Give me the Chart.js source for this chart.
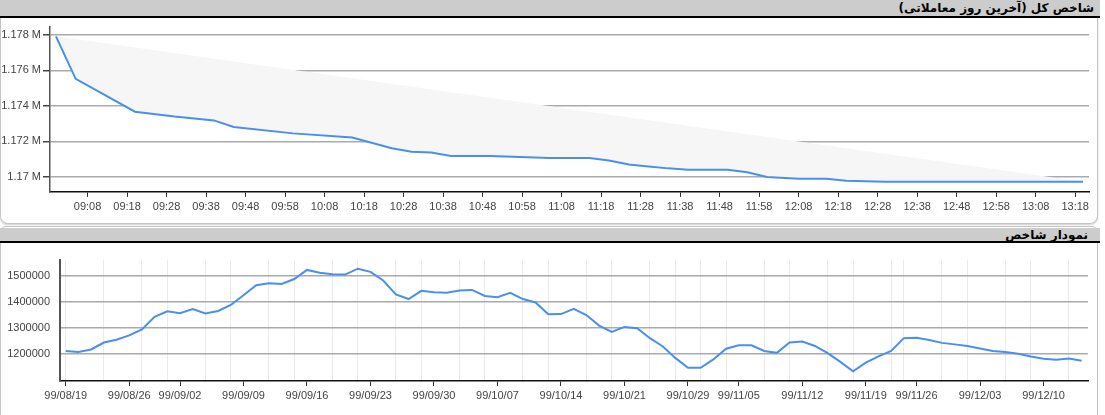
<!DOCTYPE html>
<html>
<head>
<meta charset="utf-8">
<script src="https://cdn.jsdelivr.net/npm/chart.js@4/dist/chart.umd.min.js"></script>
<style>
    body { margin: 0; width: 1105px; height: 415px; overflow: hidden; background: #fff; font-family: Arial, "Liberation Sans", sans-serif; }
    .panel { position: absolute; left: 0; width: 1098px; border: 1px solid #c4c4c4; box-sizing: border-box; background: #fff; }
    #panel1 { top: -1px; height: 225px; border-radius: 0 0 8px 8px; box-shadow: 0 1px 2px rgba(0,0,0,0.2); }
    #panel2 { top: 226px; height: 200px; border-radius: 6px 6px 0 0; }
    .bar { position: absolute; left: 0; width: 1100px; background: #ccc; border-bottom: 2px solid #000; direction: rtl; text-align: right; font: bold 12px "DejaVu Sans", sans-serif; white-space: nowrap; box-sizing: border-box; padding-right: 6px; }
    #bar1 { top: 0; height: 18px; line-height: 17px; }
    #bar2 { top: 228px; height: 15px; line-height: 14px; padding-right: 12px; }
    canvas { position: absolute; left: 0; }
</style>
</head>
<body>
<div class="panel" id="panel1"></div>
<div class="panel" id="panel2"></div>
<div class="bar" id="bar1">شاخص کل (آخرین روز معاملاتی)</div>
<div class="bar" id="bar2">نمودار شاخص</div>
<canvas id="intraday" width="1098" height="204" style="top:18px"></canvas>
<canvas id="history" width="1098" height="172" style="top:243px"></canvas>

<script>
// last trading day (intraday)
const intradayTimes = ['09:00','09:05','09:20','09:30','09:40','09:45','10:00','10:15','10:25','10:30','10:35','10:40','10:50','11:05','11:15','11:20','11:25','11:30','11:35','11:40','11:50','11:55','12:00','12:08','12:15','12:20','12:30','12:45','13:00','13:10','13:20'];
const intradayValues = [1177910,1175520,1173670,1173400,1173180,1172810,1172450,1172220,1171610,1171420,1171370,1171180,1171180,1171070,1171070,1170920,1170700,1170590,1170480,1170400,1170400,1170260,1169990,1169890,1169890,1169780,1169720,1169720,1169720,1169720,1169720];
const intradayTicks = ['09:08','09:18','09:28','09:38','09:48','09:58','10:08','10:18','10:28','10:38','10:48','10:58','11:08','11:18','11:28','11:38','11:48','11:58','12:08','12:18','12:28','12:38','12:48','12:58','13:08','13:18'];
const intradayYTicks = [1170000, 1172000, 1174000, 1176000, 1178000];

// daily index history, one value per trading day
const dailyValues = [1212200,1208600,1217900,1244400,1255200,1271700,1294600,1342300,1363800,1356600,
    1372000,1355500,1364900,1387800,1424700,1463100,1470300,1467700,1486700,1521500,
    1510800,1504700,1503600,1526200,1514300,1481000,1428300,1410400,1441600,1436600,
    1434400,1442700,1445200,1422200,1417600,1434400,1410400,1397100,1352000,1353000,
    1373000,1349500,1308900,1284900,1304000,1299300,1261000,1230100,1185700,1147700,
    1147700,1179900,1220500,1233700,1233700,1212200,1205000,1244400,1248000,1231200,
    1203600,1170300,1134400,1167800,1191800,1212200,1261000,1262400,1253800,1243000,
    1237300,1231200,1221500,1212200,1208600,1201500,1190700,1182100,1178500,1183500,
    1174900];
const dailyTickLabels = ['99/08/19','99/08/26','99/09/02','99/09/09','99/09/16','99/09/23','99/09/30','99/10/07','99/10/14','99/10/21','99/10/29','99/11/05','99/11/12','99/11/19','99/11/26','99/12/03','99/12/10'];
const dailyTickDays = [0,5,9,14,19,24,29,34,39,44,49,53,58,63,67,72,77];
const dailyMinorDays = [0,3,6,8,11,13,16,18,21,23,26,28,31,33,36,38,41,43,46,48,50,52,55,57,60,62,65,66,69,71,74,76,79];
const dailyYTicks = [1200000, 1300000, 1400000, 1500000];

const lineBlue = '#4a8ff0';
const tickFont = { family: 'Arial, "Liberation Sans", sans-serif', size: 11 };
const tickColor = '#444';

function toMin(t) {
    const [h, m] = t.split(':').map(Number);
    return h * 60 + m;
}
function fmtMin(v) {
    const h = Math.floor(v / 60), m = Math.round(v % 60);
    return String(h).padStart(2, '0') + ':' + String(m).padStart(2, '0');
}

// Intraday chart
const intradayPts = intradayTimes.map((t, i) => ({ x: toMin(t), y: intradayValues[i] }));
const last = intradayPts.length - 1;

new Chart(document.getElementById('intraday'), {
    type: 'line',
    data: {
        datasets: [{
            data: intradayPts,
            borderColor: lineBlue,
            borderWidth: 2,
            pointRadius: 0,
            tension: 0,
            fill: false
        }, {
            // chord between first and last value, shaded down to the line
            data: [intradayPts[0], intradayPts[last]],
            borderWidth: 0,
            borderColor: 'rgba(0,0,0,0)',
            pointRadius: 0,
            backgroundColor: '#f6f6f6',
            fill: { target: 0, above: '#f6f6f6', below: '#f6f6f6' }
        }]
    },
    options: {
        responsive: false,
        animation: false,
        layout: { padding: { top: 7, right: 9, left: 0, bottom: 0 } },
        plugins: { legend: { display: false }, tooltip: { enabled: false } },
        scales: {
            x: {
                type: 'linear',
                min: 538.5,
                max: 801.5,
                afterBuildTicks: s => { s.ticks = intradayTicks.map(t => ({ value: toMin(t) })); },
                afterFit: s => { s.height = 30; },
                ticks: { callback: v => fmtMin(v), autoSkip: false, maxRotation: 0, font: tickFont, color: tickColor, padding: 3 },
                grid: { drawOnChartArea: false, tickLength: 5, color: '#333' },
                border: { color: '#111', width: 1.5 }
            },
            y: {
                min: 1169150,
                max: 1178460,
                afterBuildTicks: s => { s.ticks = intradayYTicks.map(v => ({ value: v })); },
                afterFit: s => { s.width = 50; },
                ticks: { callback: v => parseFloat((v / 1e6).toFixed(3)) + ' M', font: tickFont, color: tickColor, padding: 2 },
                grid: { color: '#aaa', lineWidth: 1.5, tickLength: 7, tickColor: '#444' },
                border: { color: '#555', width: 1.5 }
            }
        }
    }
});

// History chart
new Chart(document.getElementById('history'), {
    type: 'line',
    data: {
        datasets: [{
            data: dailyValues.map((v, i) => ({ x: i, y: v })),
            borderColor: lineBlue,
            borderWidth: 2,
            pointRadius: 0,
            tension: 0,
            fill: false
        }]
    },
    options: {
        responsive: false,
        animation: false,
        layout: { padding: { top: 9, right: 10, left: 0, bottom: 0 } },
        plugins: { legend: { display: false }, tooltip: { enabled: false } },
        scales: {
            x: {
                type: 'linear',
                min: -0.45,
                max: 80.5,
                afterBuildTicks: s => { s.ticks = dailyTickDays.map(d => ({ value: d })); },
                afterFit: s => { s.height = 34; },
                ticks: {
                    callback: v => dailyTickLabels[dailyTickDays.indexOf(v)],
                    autoSkip: false, maxRotation: 0, font: tickFont, color: tickColor, padding: 3
                },
                grid: { drawOnChartArea: false, tickLength: 5, color: '#333' },
                border: { color: '#111', width: 1.5 }
            },
            xMinor: {
                type: 'linear',
                position: 'bottom',
                min: -0.45,
                max: 80.5,
                afterBuildTicks: s => { s.ticks = dailyMinorDays.map(d => ({ value: d })); },
                afterFit: s => { s.height = 0; },
                ticks: { display: false },
                grid: { color: '#ebebeb', lineWidth: 1, drawTicks: false },
                border: { display: false }
            },
            y: {
                min: 1097500,
                max: 1560900,
                afterBuildTicks: s => { s.ticks = dailyYTicks.map(v => ({ value: v })); },
                afterFit: s => { s.width = 60; },
                ticks: { callback: v => String(v), font: tickFont, color: tickColor, padding: 10 },
                grid: { color: '#aaa', lineWidth: 1.5, drawTicks: false },
                border: { color: '#555', width: 2 }
            }
        }
    }
});
</script>
</body>
</html>
